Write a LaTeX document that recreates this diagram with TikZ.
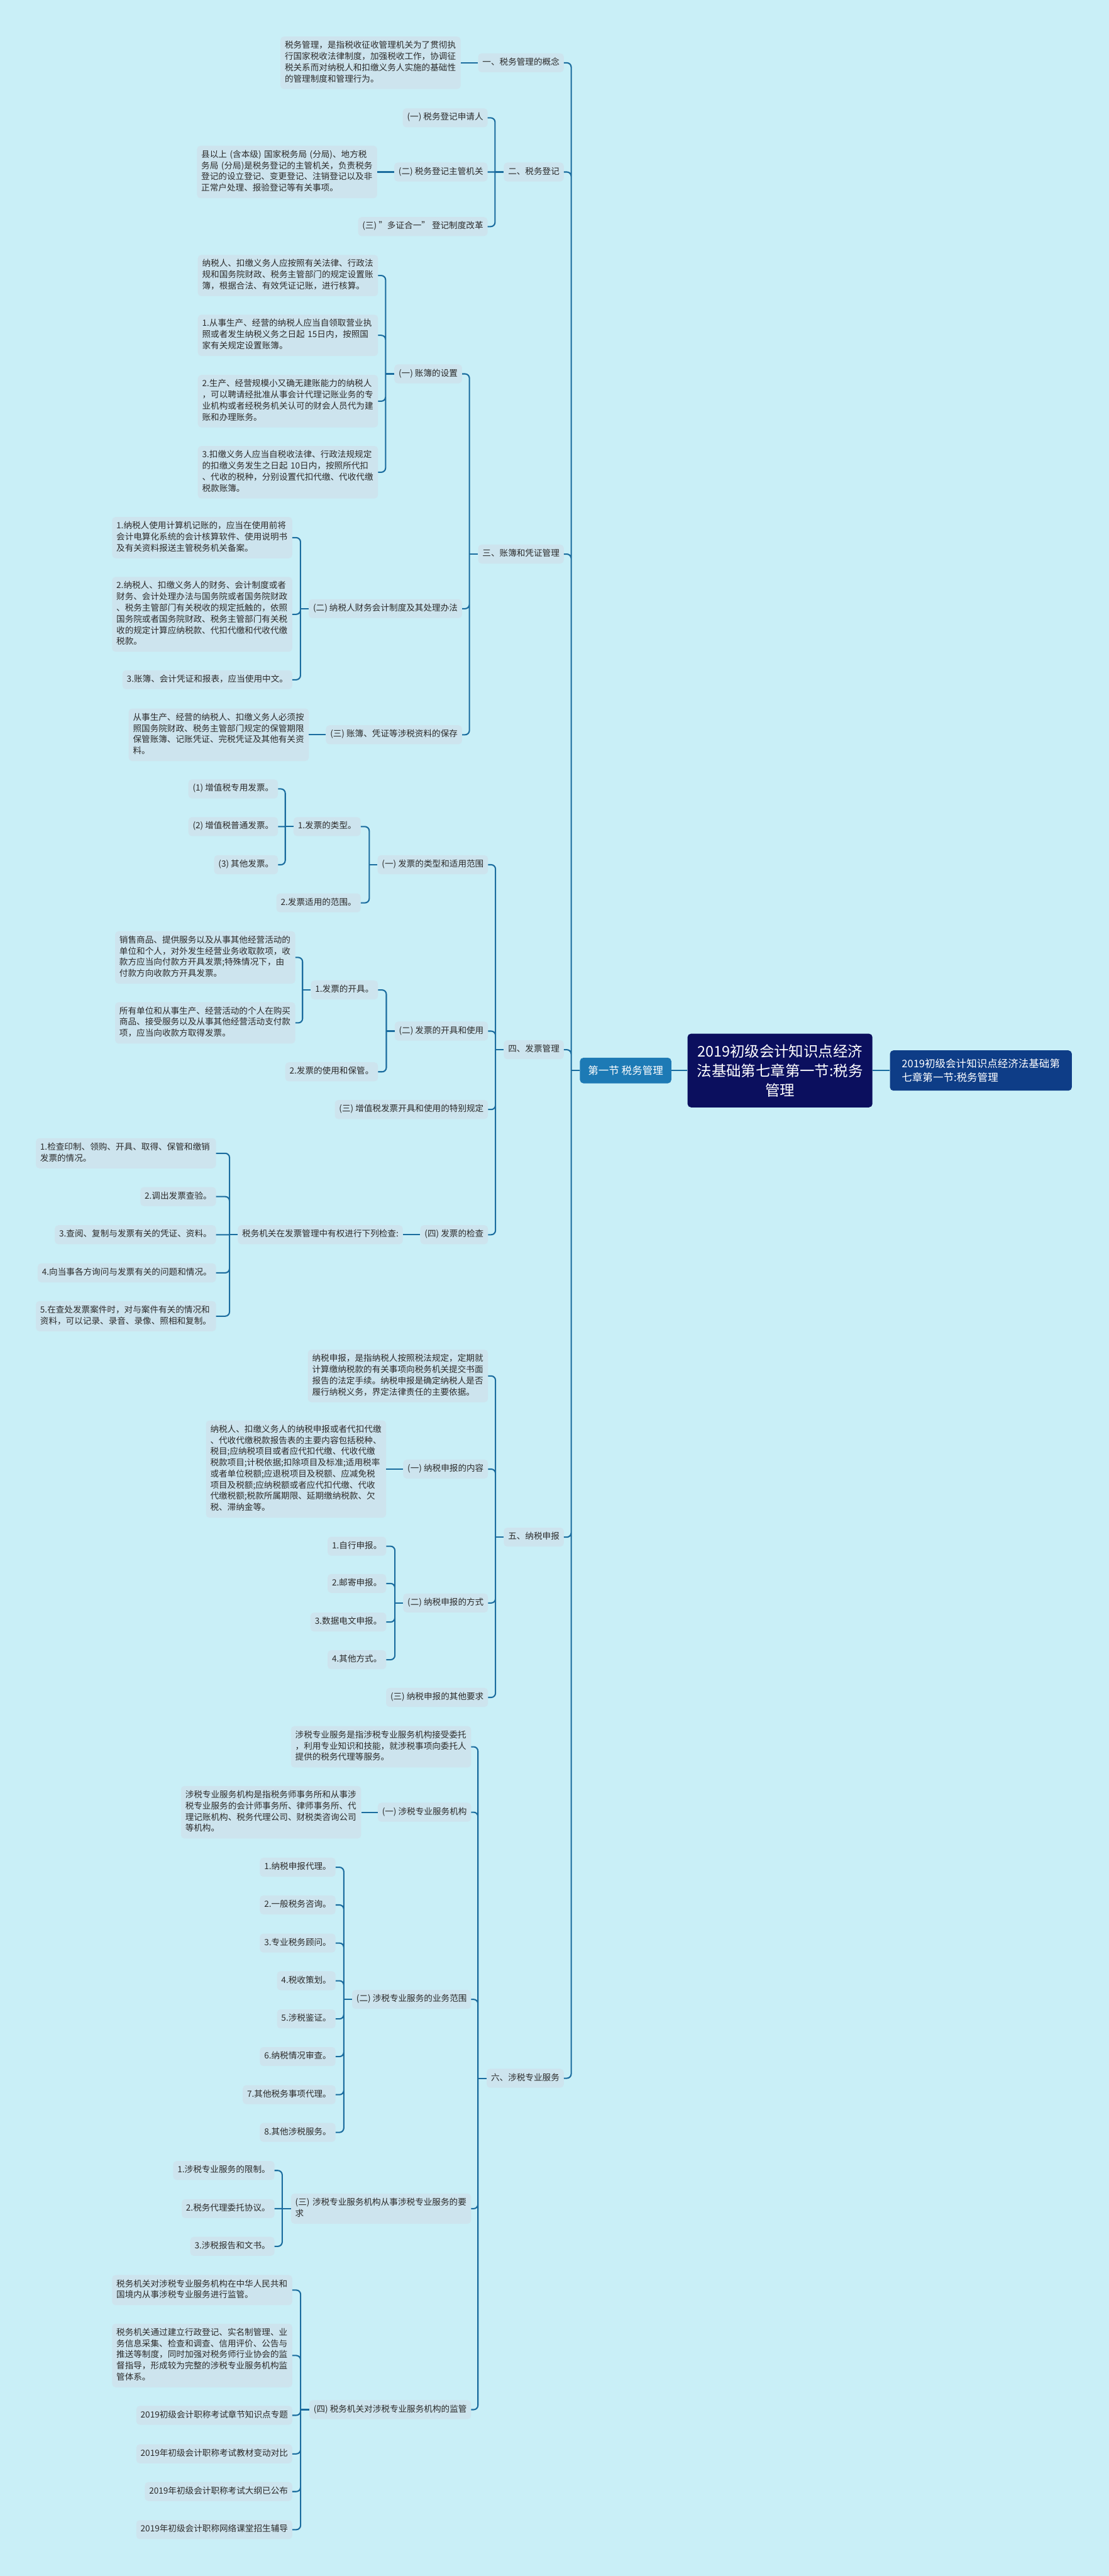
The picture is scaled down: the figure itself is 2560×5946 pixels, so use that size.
\documentclass[tikz,border=0pt]{standalone}
\usepackage{fontspec}
\setmainfont{Noto Sans CJK SC}
\usetikzlibrary{positioning}
\definecolor{bgcyan}{HTML}{C9EFF7}
\definecolor{boxfill}{HTML}{CDE4EE}
\definecolor{linkblue}{HTML}{1A6C9E}
\definecolor{txt}{HTML}{2B2B2B}
\definecolor{rootnavy}{HTML}{0B0F5E}
\definecolor{sidenavy}{HTML}{0E3D87}
\definecolor{secblue}{HTML}{1D7AB5}

\begin{document}
\begin{tikzpicture}[x=1pt,y=-1pt]
\tikzstyle{topic}=[fill=boxfill, text=txt, rounded corners=8pt, inner xsep=10pt, inner ysep=9pt, font=\fontsize{19.75}{25.8}\selectfont, execute at begin node=\strut, execute at end node=\strut, anchor=east]
\tikzstyle{note}=[topic, text width=396pt, align=left]
\tikzstyle{link}=[draw=linkblue, line width=3pt, rounded corners=10pt]
\tikzstyle{root}=[fill=rootnavy, text=white, rounded corners=8pt, font=\fontsize{34}{45}\selectfont, align=center, minimum width=427pt, minimum height=170pt, inner sep=0pt]
\tikzstyle{side}=[fill=sidenavy, text=white, rounded corners=8pt, font=\fontsize{24}{33}\selectfont, align=left, minimum width=420pt, minimum height=93pt, inner xsep=15pt]
\tikzstyle{sec}=[fill=secblue, text=white, rounded corners=8pt, font=\fontsize{24}{33}\selectfont, minimum width=211pt, minimum height=59pt, inner sep=0pt]
  \fill[bgcyan] (0,0) rectangle (2560,5946);
  \useasboundingbox (0,0) rectangle (2560,5946);

  % centre
  \node[root] (root) at (1801,2471) {2019初级会计知识点经济\\法基础第七章第一节:税务\\管理};
  \node[sec] (sec) [left=37pt of root] {第一节 税务管理};
  \node[side] (side) [right=40pt of root] {2019初级会计知识点经济法基础第\\七章第一节:税务管理};
  \path (root) edge [link] (sec)
        (root) edge [link] (side);

  % level one
  \node[topic] (L1) at (1302,145) {一、税务管理的概念};
  \node[topic] (L2) at (1302,397) {二、税务登记};
  \node[topic] (L3) at (1302,1279) {三、账簿和凭证管理};
  \node[topic] (L4) at (1302,2423) {四、发票管理};
  \node[topic] (L5) at (1302,3548) {五、纳税申报};
  \node[topic] (L6) at (1302,4797) {六、涉税专业服务};
  \draw[link] (sec.west) -- ++(-20,0) coordinate (T0);
  \draw[link] (T0) |- (L1.east) (T0) |- (L2.east) (T0) |- (L3.east)
              (T0) |- (L4.east) (T0) |- (L5.east) (T0) |- (L6.east);

  % 一
  \node[note] (L1n) [left=40pt of L1] {税务管理，是指税收征收管理机关为了贯彻执\\行国家税收法律制度，加强税收工作，协调征\\税关系而对纳税人和扣缴义务人实施的基础性\\的管理制度和管理行为。};
  \path (L1) edge [link] (L1n);

  % 二
  \node[topic] (L2a) at (1126,272) {(一) 税务登记申请人};
  \node[topic] (L2b) at (1126,397) {(二) 税务登记主管机关};
  \node[topic] (L2c) at (1126,523) {(三) "多证合一" 登记制度改革};
  \draw[link] (L2.west) -- ++(-20,0) coordinate (T2);
  \draw[link] (T2) |- (L2a.east) (T2) -- (L2b.east) (T2) |- (L2c.east);
  \node[note] (L2bn) [left=39pt of L2b] {县以上 (含本级) 国家税务局 (分局)、地方税\\务局 (分局)是税务登记的主管机关，负责税务\\登记的设立登记、变更登记、注销登记以及非\\正常户处理、报验登记等有关事项。};
  \path (L2b) edge [link] (L2bn);

  % 三
  \node[topic] (L3a) at (1067,863) {(一) 账簿的设置};
  \node[topic] (L3b) at (1067,1405) {(二) 纳税人财务会计制度及其处理办法};
  \node[topic] (L3c) at (1067,1696) {(三) 账簿、凭证等涉税资料的保存};
  \draw[link] (L3.west) -- ++(-20,0) coordinate (T3);
  \draw[link] (T3) |- (L3a.east) (T3) |- (L3b.east) (T3) |- (L3c.east);

  \node[note] (L3a0) at (873,636) {纳税人、扣缴义务人应按照有关法律、行政法\\规和国务院财政、税务主管部门的规定设置账\\簿，根据合法、有效凭证记账，进行核算。};
  \node[note] (L3a1) at (873,774) {1.从事生产、经营的纳税人应当自领取营业执\\照或者发生纳税义务之日起 15日内，按照国\\家有关规定设置账簿。};
  \node[note] (L3a2) at (873,926) {2.生产、经营规模小又确无建账能力的纳税人\\，可以聘请经批准从事会计代理记账业务的专\\业机构或者经税务机关认可的财会人员代为建\\账和办理账务。};
  \node[note] (L3a3) at (873,1090) {3.扣缴义务人应当自税收法律、行政法规规定\\的扣缴义务发生之日起 10日内，按照所代扣\\、代收的税种，分别设置代扣代缴、代收代缴\\税款账簿。};
  \draw[link] (L3a.west) -- ++(-20,0) coordinate (T3a);
  \draw[link] (T3a) |- (L3a0.east) (T3a) |- (L3a1.east) (T3a) |- (L3a2.east) (T3a) |- (L3a3.east);

  \node[note] (L3b1) at (675,1241) {1.纳税人使用计算机记账的，应当在使用前将\\会计电算化系统的会计核算软件、使用说明书\\及有关资料报送主管税务机关备案。};
  \node[note] (L3b2) at (675,1418) {2.纳税人、扣缴义务人的财务、会计制度或者\\财务、会计处理办法与国务院或者国务院财政\\、税务主管部门有关税收的规定抵触的，依照\\国务院或者国务院财政、税务主管部门有关税\\收的规定计算应纳税款、代扣代缴和代收代缴\\税款。};
  \node[topic] (L3b3) at (675,1569) {3.账簿、会计凭证和报表，应当使用中文。};
  \draw[link] (L3b.west) -- ++(-19,0) coordinate (T3b);
  \draw[link] (T3b) |- (L3b1.east) (T3b) |- (L3b2.east) (T3b) |- (L3b3.east);

  \node[note] (L3cn) [left=39pt of L3c] {从事生产、经营的纳税人、扣缴义务人必须按\\照国务院财政、税务主管部门规定的保管期限\\保管账簿、记账凭证、完税凭证及其他有关资\\料。};
  \path (L3c) edge [link] (L3cn);

  % 四
  \node[topic] (L4a) at (1127,1996) {(一) 发票的类型和适用范围};
  \node[topic] (L4b) at (1127,2380) {(二) 发票的开具和使用};
  \node[topic] (L4c) at (1127,2561) {(三) 增值税发票开具和使用的特别规定};
  \node[topic] (L4d) at (1127,2850) {(四) 发票的检查};
  \draw[link] (L4.west) -- ++(-19,0) coordinate (T4);
  \draw[link] (T4) |- (L4a.east) (T4) |- (L4b.east) (T4) |- (L4c.east) (T4) |- (L4d.east);

  \node[topic] (L4a1) at (833,1908) {1.发票的类型。};
  \node[topic] (L4a2) at (833,2084) {2.发票适用的范围。};
  \draw[link] (L4a.west) -- ++(-19,0) coordinate (T4a);
  \draw[link] (T4a) |- (L4a1.east) (T4a) |- (L4a2.east);
  \node[topic] (L4a1a) at (642,1821) {(1) 增值税专用发票。};
  \node[topic] (L4a1b) at (642,1908) {(2) 增值税普通发票。};
  \node[topic] (L4a1c) at (642,1996) {(3) 其他发票。};
  \draw[link] (L4a1.west) -- ++(-19,0) coordinate (T4a1);
  \draw[link] (T4a1) |- (L4a1a.east) (T4a1) -- (L4a1b.east) (T4a1) |- (L4a1c.east);

  \node[topic] (L4b1) at (873,2285) {1.发票的开具。};
  \node[topic] (L4b2) at (873,2474) {2.发票的使用和保管。};
  \draw[link] (L4b.west) -- ++(-19,0) coordinate (T4b);
  \draw[link] (T4b) |- (L4b1.east) (T4b) |- (L4b2.east);
  \node[note] (L4b1a) at (682,2210) {销售商品、提供服务以及从事其他经营活动的\\单位和个人，对外发生经营业务收取款项，收\\款方应当向付款方开具发票;特殊情况下，由\\付款方向收款方开具发票。};
  \node[note] (L4b1b) at (682,2361) {所有单位和从事生产、经营活动的个人在购买\\商品、接受服务以及从事其他经营活动支付款\\项，应当向收款方取得发票。};
  \draw[link] (L4b1.west) -- ++(-19,0) coordinate (T4b1);
  \draw[link] (T4b1) |- (L4b1a.east) (T4b1) |- (L4b1b.east);

  \node[topic] (L4dn) [left=40pt of L4d] {税务机关在发票管理中有权进行下列检查:};
  \path (L4d) edge [link] (L4dn);
  \node[note] (L4d1) at (499,2662) {1.检查印制、领购、开具、取得、保管和缴销\\发票的情况。};
  \node[topic] (L4d2) at (499,2762) {2.调出发票查验。};
  \node[topic] (L4d3) at (499,2850) {3.查阅、复制与发票有关的凭证、资料。};
  \node[topic] (L4d4) at (499,2938) {4.向当事各方询问与发票有关的问题和情况。};
  \node[note] (L4d5) at (499,3038) {5.在查处发票案件时，对与案件有关的情况和\\资料，可以记录、录音、录像、照相和复制。};
  \draw[link] (L4dn.west) -- ++(-19,0) coordinate (T4d);
  \draw[link] (T4d) |- (L4d1.east) (T4d) |- (L4d2.east) (T4d) -- (L4d3.east)
              (T4d) |- (L4d4.east) (T4d) |- (L4d5.east);

  % 五
  \node[note] (L5n) at (1127,3176) {纳税申报，是指纳税人按照税法规定，定期就\\计算缴纳税款的有关事项向税务机关提交书面\\报告的法定手续。纳税申报是确定纳税人是否\\履行纳税义务，界定法律责任的主要依据。};
  \node[topic] (L5a) at (1127,3391) {(一) 纳税申报的内容};
  \node[topic] (L5b) at (1127,3700) {(二) 纳税申报的方式};
  \node[topic] (L5c) at (1127,3918) {(三) 纳税申报的其他要求};
  \draw[link] (L5.west) -- ++(-19,0) coordinate (T5);
  \draw[link] (T5) |- (L5n.east) (T5) |- (L5a.east) (T5) |- (L5b.east) (T5) |- (L5c.east);

  \node[note] (L5an) [left=39pt of L5a] {纳税人、扣缴义务人的纳税申报或者代扣代缴\\、代收代缴税款报告表的主要内容包括税种、\\税目;应纳税项目或者应代扣代缴、代收代缴\\税款项目;计税依据;扣除项目及标准;适用税率\\或者单位税额;应退税项目及税额、应减免税\\项目及税额;应纳税额或者应代扣代缴、代收\\代缴税额;税款所属期限、延期缴纳税款、欠\\税、滞纳金等。};
  \path (L5a) edge [link] (L5an);

  \node[topic] (L5b1) at (892,3569) {1.自行申报。};
  \node[topic] (L5b2) at (892,3655) {2.邮寄申报。};
  \node[topic] (L5b3) at (892,3744) {3.数据电文申报。};
  \node[topic] (L5b4) at (892,3831) {4.其他方式。};
  \draw[link] (L5b.west) -- ++(-19,0) coordinate (T5b);
  \draw[link] (T5b) |- (L5b1.east) (T5b) |- (L5b2.east) (T5b) |- (L5b3.east) (T5b) |- (L5b4.east);

  % 六
  \node[note] (L6n) at (1088,4032) {涉税专业服务是指涉税专业服务机构接受委托\\，利用专业知识和技能，就涉税事项向委托人\\提供的税务代理等服务。};
  \node[topic] (L6a) at (1088,4183) {(一) 涉税专业服务机构};
  \node[topic] (L6b) at (1088,4615) {(二) 涉税专业服务的业务范围};
  \node[note] (L6c) at (1088,5098) {(三) 涉税专业服务机构从事涉税专业服务的要\\求};
  \node[topic] (L6d) at (1088,5562) {(四) 税务机关对涉税专业服务机构的监管};
  \draw[link] (L6.west) -- ++(-20,0) coordinate (T6);
  \draw[link] (T6) |- (L6n.east) (T6) |- (L6a.east) (T6) |- (L6b.east) (T6) |- (L6c.east) (T6) |- (L6d.east);

  \node[note] (L6an) [left=38pt of L6a] {涉税专业服务机构是指税务师事务所和从事涉\\税专业服务的会计师事务所、律师事务所、代\\理记账机构、税务代理公司、财税类咨询公司\\等机构。};
  \path (L6a) edge [link] (L6an);

  \node[topic] (L6b1) at (775,4310) {1.纳税申报代理。};
  \node[topic] (L6b2) at (775,4397) {2.一般税务咨询。};
  \node[topic] (L6b3) at (775,4485) {3.专业税务顾问。};
  \node[topic] (L6b4) at (775,4572) {4.税收策划。};
  \node[topic] (L6b5) at (775,4660) {5.涉税鉴证。};
  \node[topic] (L6b6) at (775,4747) {6.纳税情况审查。};
  \node[topic] (L6b7) at (775,4835) {7.其他税务事项代理。};
  \node[topic] (L6b8) at (775,4922) {8.其他涉税服务。};
  \draw[link] (L6b.west) -- ++(-19,0) coordinate (T6b);
  \draw[link] (T6b) |- (L6b1.east) (T6b) |- (L6b2.east) (T6b) |- (L6b3.east) (T6b) |- (L6b4.east)
              (T6b) |- (L6b5.east) (T6b) |- (L6b6.east) (T6b) |- (L6b7.east) (T6b) |- (L6b8.east);

  \node[topic] (L6c1) at (634,5010) {1.涉税专业服务的限制。};
  \node[topic] (L6c2) at (634,5098) {2.税务代理委托协议。};
  \node[topic] (L6c3) at (634,5185) {3.涉税报告和文书。};
  \draw[link] (L6c.west) -- ++(-20,0) coordinate (T6c);
  \draw[link] (T6c) |- (L6c1.east) (T6c) -- (L6c2.east) (T6c) |- (L6c3.east);

  \node[note] (L6d1) at (675,5286) {税务机关对涉税专业服务机构在中华人民共和\\国境内从事涉税专业服务进行监管。};
  \node[note] (L6d2) at (675,5437) {税务机关通过建立行政登记、实名制管理、业\\务信息采集、检查和调查、信用评价、公告与\\推送等制度，同时加强对税务师行业协会的监\\督指导，形成较为完整的涉税专业服务机构监\\管体系。};
  \node[topic] (L6d3) at (675,5575) {2019初级会计职称考试章节知识点专题};
  \node[topic] (L6d4) at (675,5664) {2019年初级会计职称考试教材变动对比};
  \node[topic] (L6d5) at (675,5751) {2019年初级会计职称考试大纲已公布};
  \node[topic] (L6d6) at (675,5839) {2019年初级会计职称网络课堂招生辅导};
  \draw[link] (L6d.west) -- ++(-20,0) coordinate (T6d);
  \draw[link] (T6d) |- (L6d1.east) (T6d) |- (L6d2.east) (T6d) |- (L6d3.east)
              (T6d) |- (L6d4.east) (T6d) |- (L6d5.east) (T6d) |- (L6d6.east);

\end{tikzpicture}
\end{document}
